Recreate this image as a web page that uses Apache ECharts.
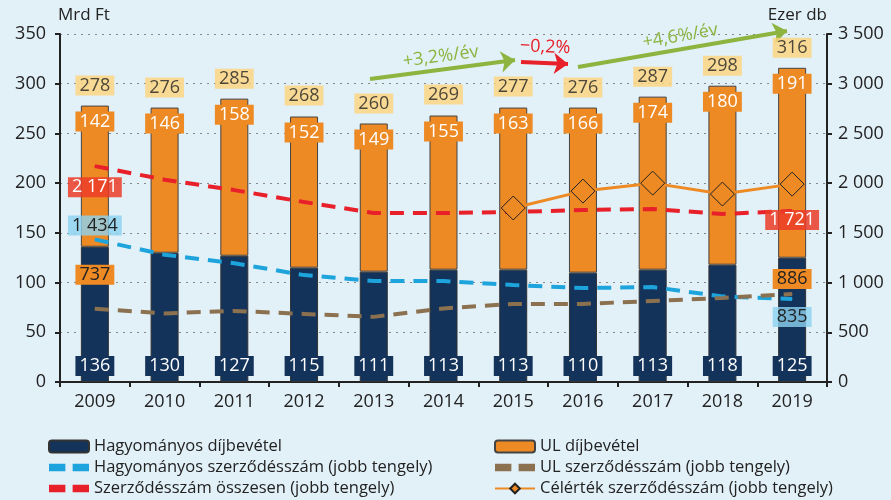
<!DOCTYPE html>
<html>
<head>
<meta charset="utf-8">
<script src="https://cdn.jsdelivr.net/npm/echarts@6/dist/echarts.min.js"></script>
<style>
html,body{margin:0;padding:0;background:#e2f0f8;}
#main{width:891px;height:500px;}
</style>
</head>
<body>
<div id="main"></div>
<script>
// évek
var years = ['2009','2010','2011','2012','2013','2014','2015','2016','2017','2018','2019'];
// díjbevétel, Mrd Ft
var hagyDij = [136,130,127,115,111,113,113,110,113,118,125];
var ulDij = [142,146,158,152,149,155,163,166,174,180,191];
var osszDij = [278,276,285,268,260,269,277,276,287,298,316];
// szerződésszám, ezer db
var hagySzam = [1434,1280,1195,1075,1015,1015,975,945,955,860,835];
var ulSzam = [737,690,715,685,655,740,785,785,815,845,886];
var osszSzam = [2171,2035,1930,1810,1700,1700,1710,1730,1740,1690,1721];
var celSzam = [null,null,null,null,null,null,1750,1920,2000,1890,1990];

var FONT = '"Open Sans", "Noto Sans", sans-serif';
var NAVY = '#13335b', ORANGE = '#ee8a24', GREEN = '#8cb43f', RED = '#e8202a';
var DASH_ICON = 'path://M2,4h9v4h-9z M15,4h9v4h-9z';

function fmt(v){ return String(v).replace(/\B(?=(\d{3})+(?!\d))/g, ' '); }

// első és utolsó pont címkéje
function endLabels(values, first, last){
    return values.map(function(v, i){
        if (i === 0) return {value: v, label: first};
        if (i === values.length - 1) return {value: v, label: last};
        return v;
    });
}
function lbl(bg, color, offsetY){
    return {show: true, position: 'inside', offset: [0, offsetY], formatter: function(p){ return fmt(p.value); },
        backgroundColor: bg, color: color, fontSize: 18, fontFamily: FONT, padding: [1, 4]};
}

var myChart = echarts.init(document.getElementById('main'));
myChart.setOption({
    backgroundColor: '#e2f0f8',
    animation: false,
    textStyle: {fontFamily: FONT},
    grid: {left: 60, right: 64, top: 34, bottom: 118},
    legend: [{
        left: 43, top: 433, height: 90, orient: 'vertical', itemGap: 4, itemWidth: 40, itemHeight: 12,
        textStyle: {fontSize: 16.5, color: '#222', fontFamily: FONT},
        data: [{name: 'Hagyományos díjbevétel'},
            {name: 'Hagyományos szerződésszám (jobb tengely)', icon: DASH_ICON},
            {name: 'Szerződésszám összesen (jobb tengely)', icon: DASH_ICON}]
    }, {
        left: 489, top: 433, height: 90, orient: 'vertical', itemGap: 4, itemWidth: 40, itemHeight: 12,
        textStyle: {fontSize: 16.5, color: '#222', fontFamily: FONT},
        data: [{name: 'UL díjbevétel'},
            {name: 'UL szerződésszám (jobb tengely)', icon: DASH_ICON},
            {name: 'Célérték szerződésszám (jobb tengely)'}]
    }],
    xAxis: {
        type: 'category', data: years,
        axisLine: {lineStyle: {color: '#222', width: 2}},
        axisTick: {show: true, length: 5, lineStyle: {color: '#222', width: 2}},
        axisLabel: {fontSize: 18, color: '#222', margin: 11}
    },
    yAxis: [{
        type: 'value', min: 0, max: 350, interval: 50,
        name: 'Mrd Ft', nameGap: 10, nameTextStyle: {fontSize: 17, color: '#222', align: 'left', padding: [0, 0, 0, -2]},
        axisLine: {show: true, lineStyle: {color: '#222', width: 2}},
        axisTick: {show: true, length: 5, lineStyle: {color: '#222', width: 2}},
        axisLabel: {fontSize: 18, color: '#222', margin: 14},
        splitLine: {lineStyle: {color: '#888', type: [2, 5], width: 1.2}}
    }, {
        type: 'value', min: 0, max: 3500, interval: 500,
        name: 'Ezer db', nameGap: 10, nameTextStyle: {fontSize: 17, color: '#222', align: 'right'},
        axisLine: {show: true, lineStyle: {color: '#222', width: 2}},
        axisTick: {show: true, length: 5, lineStyle: {color: '#222', width: 2}},
        axisLabel: {fontSize: 18, color: '#222', margin: 11, formatter: fmt},
        splitLine: {show: false}
    }],
    series: [
        {
            name: 'Hagyományos díjbevétel', type: 'bar', stack: 'dij', barWidth: 28,
            itemStyle: {color: NAVY, borderColor: '#333', borderWidth: 1},
            label: {show: true, position: 'insideBottom', distance: 6, color: '#fff', fontSize: 18,
                backgroundColor: NAVY, padding: [1, 4]},
            data: hagyDij
        },
        {
            name: 'UL díjbevétel', type: 'bar', stack: 'dij', barWidth: 28,
            itemStyle: {color: ORANGE, borderColor: '#444', borderWidth: 1},
            label: {show: true, position: 'insideTop', distance: 6, color: '#fff', fontSize: 18,
                backgroundColor: ORANGE, padding: [1, 4]},
            data: ulDij,
            markLine: {
                silent: true, symbol: ['none', 'arrow'], symbolSize: [16, 14], animation: false,
                label: {show: true, position: 'middle', fontSize: 18, distance: 4},
                data: [
                    [{x: 370, y: 79, lineStyle: {color: GREEN, width: 4, type: 'solid'},
                      label: {formatter: '+3,2%/év', color: GREEN}}, {x: 515, y: 60}],
                    [{x: 521, y: 62, lineStyle: {color: RED, width: 4, type: 'solid'},
                      label: {formatter: '\u22120,2%', color: RED, distance: 7}}, {x: 568, y: 64}],
                    [{x: 578, y: 67, lineStyle: {color: GREEN, width: 4, type: 'solid'},
                      label: {formatter: '+4,6%/év', color: GREEN}}, {x: 787, y: 31}]
                ]
            }
        },
        {
            name: 'Összesen', type: 'scatter', symbolSize: 0, z: 5,
            label: {show: true, position: 'top', distance: 10, color: '#222', fontSize: 18,
                backgroundColor: '#ffd47c', padding: [1, 4]},
            data: osszDij
        },
        {
            name: 'Hagyományos szerződésszám (jobb tengely)', type: 'line', yAxisIndex: 1, z: 6,
            symbol: 'circle', symbolSize: 1,
            lineStyle: {color: '#1ea4dc', width: 4, type: [14, 9]}, itemStyle: {color: '#1ea4dc'},
            data: endLabels(hagySzam, lbl('rgba(140,210,240,0.8)', '#222', -14), lbl('rgba(140,210,240,0.8)', '#222', 18))
        },
        {
            name: 'UL szerződésszám (jobb tengely)', type: 'line', yAxisIndex: 1, z: 6,
            symbol: 'circle', symbolSize: 1,
            lineStyle: {color: '#8b7150', width: 4, type: [14, 9]}, itemStyle: {color: '#8b7150'},
            data: endLabels(ulSzam, lbl(ORANGE, '#222', -34), lbl(ORANGE, '#222', -15))
        },
        {
            name: 'Szerződésszám összesen (jobb tengely)', type: 'line', yAxisIndex: 1, z: 6,
            symbol: 'circle', symbolSize: 1,
            lineStyle: {color: RED, width: 4, type: [14, 9]}, itemStyle: {color: RED},
            data: endLabels(osszSzam, lbl('rgba(235,60,40,0.85)', '#fff', 21), lbl('rgba(235,60,40,0.85)', '#fff', 9))
        },
        {
            name: 'Célérték szerződésszám (jobb tengely)', type: 'line', yAxisIndex: 1, z: 7,
            symbol: 'diamond', symbolSize: 24,
            lineStyle: {color: ORANGE, width: 3},
            itemStyle: {color: ORANGE, borderColor: '#222', borderWidth: 1},
            data: celSzam
        }
    ]
});
</script>
</body>
</html>
